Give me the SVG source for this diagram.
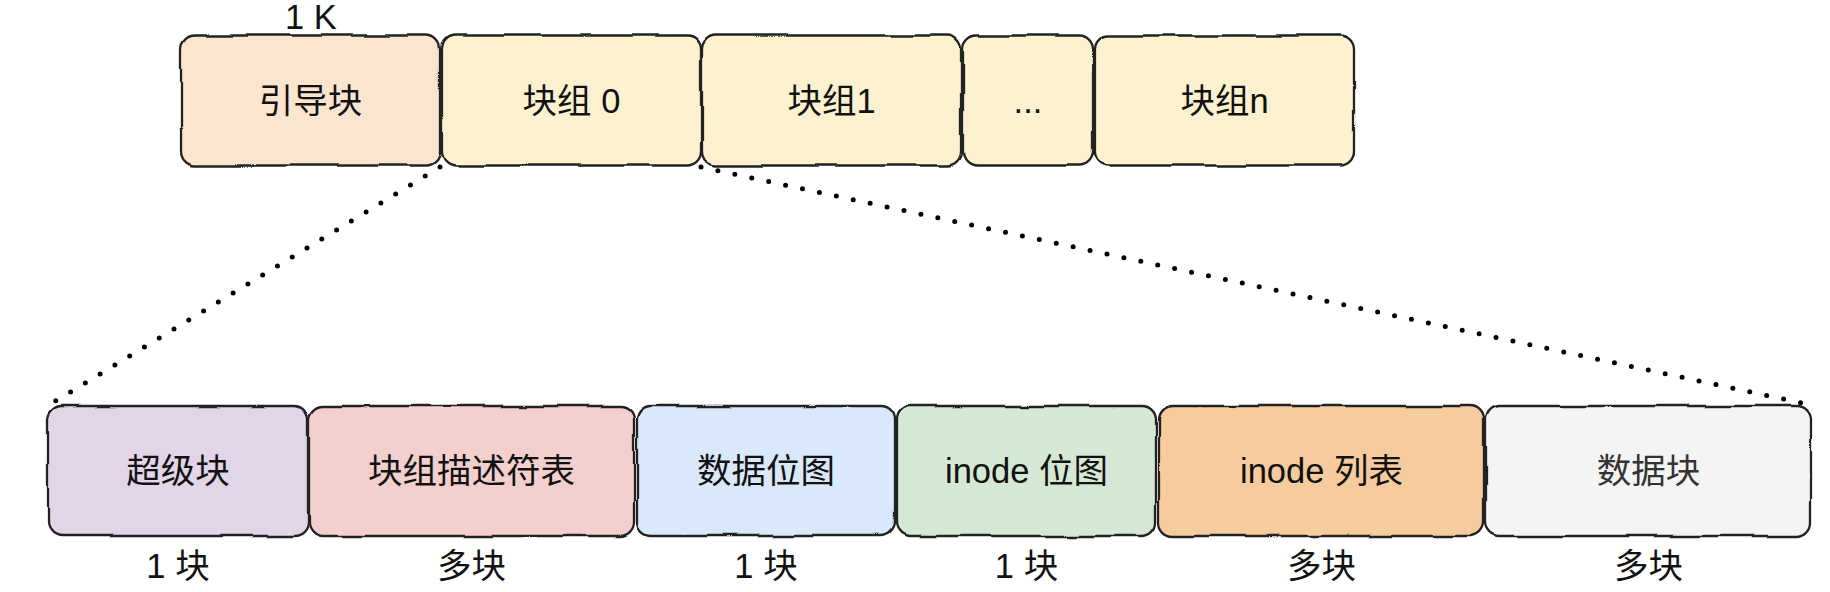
<svg xmlns="http://www.w3.org/2000/svg" width="1830" height="592" viewBox="0 0 1830 592">
  <defs>
    <filter id="sketch" x="-5%" y="-10%" width="110%" height="120%">
      <feTurbulence type="fractalNoise" baseFrequency="0.02" numOctaves="1" seed="7" result="noise"/>
      <feDisplacementMap in="SourceGraphic" in2="noise" scale="6" xChannelSelector="R" yChannelSelector="G"/>
    </filter>
  </defs>
  <style>
    .box { stroke: #222222; stroke-width: 2.3; filter: url(#sketch); }
    .lbl { font-family: "Liberation Sans", "Noto Sans CJK SC", sans-serif; font-size: 34.5px; fill: #111111; text-anchor: middle; }
    .grey { fill: #333333; }
    .dots { fill: none; stroke: #000000; stroke-width: 5; stroke-linecap: round; stroke-dasharray: 0 17.3; }
  </style>
  <rect width="1830" height="592" fill="#ffffff"/>

  <g id="connectors">
    <line class="dots" x1="440" y1="167" x2="49" y2="405"/>
    <line class="dots" x1="701" y1="167" x2="1811" y2="405"/>
  </g>

  <g id="label-1k"><text class="lbl" x="311" y="29">1 K</text></g>

  <g id="boot-block">
    <rect class="box" x="181" y="35.5" width="259" height="130" rx="14" fill="#fce5cf"/>
    <text class="lbl" x="310.5" y="113">引导块</text>
  </g>
  <g id="group-0">
    <rect class="box" x="442" y="35.5" width="259" height="130" rx="14" fill="#fdf1cf"/>
    <text class="lbl" x="571.5" y="113">块组 0</text>
  </g>
  <g id="group-1">
    <rect class="box" x="702" y="35.5" width="259" height="130" rx="14" fill="#fdf1cf"/>
    <text class="lbl" x="831.5" y="113">块组1</text>
  </g>
  <g id="group-more">
    <rect class="box" x="963" y="35.5" width="130" height="130" rx="14" fill="#fdf1cf"/>
    <text class="lbl" x="1028" y="113">...</text>
  </g>
  <g id="group-n">
    <rect class="box" x="1095" y="35.5" width="259" height="130" rx="14" fill="#fdf1cf"/>
    <text class="lbl" x="1224.5" y="113">块组n</text>
  </g>

  <g id="super-block">
    <rect class="box" x="48" y="406" width="260" height="130" rx="14" fill="#e1d5e7"/>
    <text class="lbl" x="178" y="483">超级块</text>
  </g>
  <g id="gdt">
    <rect class="box" x="309" y="406" width="325" height="130" rx="14" fill="#f3cfcd"/>
    <text class="lbl" x="471.5" y="483">块组描述符表</text>
  </g>
  <g id="data-bitmap">
    <rect class="box" x="637" y="406" width="258" height="130" rx="14" fill="#dae8fc"/>
    <text class="lbl" x="766" y="483">数据位图</text>
  </g>
  <g id="inode-bitmap">
    <rect class="box" x="897" y="406" width="259" height="130" rx="14" fill="#d5e8d4"/>
    <text class="lbl" x="1026.5" y="483">inode 位图</text>
  </g>
  <g id="inode-table">
    <rect class="box" x="1159" y="406" width="325" height="130" rx="14" fill="#f6cb9e"/>
    <text class="lbl" x="1321.5" y="483">inode 列表</text>
  </g>
  <g id="data-blocks">
    <rect class="box" x="1486" y="406" width="325" height="130" rx="14" fill="#f4f4f4"/>
    <text class="lbl grey" x="1648.5" y="483">数据块</text>
  </g>

  <g id="count-super"><text class="lbl" x="178" y="578">1 块</text></g>
  <g id="count-gdt"><text class="lbl" x="471.5" y="578">多块</text></g>
  <g id="count-data-bitmap"><text class="lbl" x="766" y="578">1 块</text></g>
  <g id="count-inode-bitmap"><text class="lbl" x="1026.5" y="578">1 块</text></g>
  <g id="count-inode-table"><text class="lbl" x="1321.5" y="578">多块</text></g>
  <g id="count-data-blocks"><text class="lbl" x="1648.5" y="578">多块</text></g>
</svg>
